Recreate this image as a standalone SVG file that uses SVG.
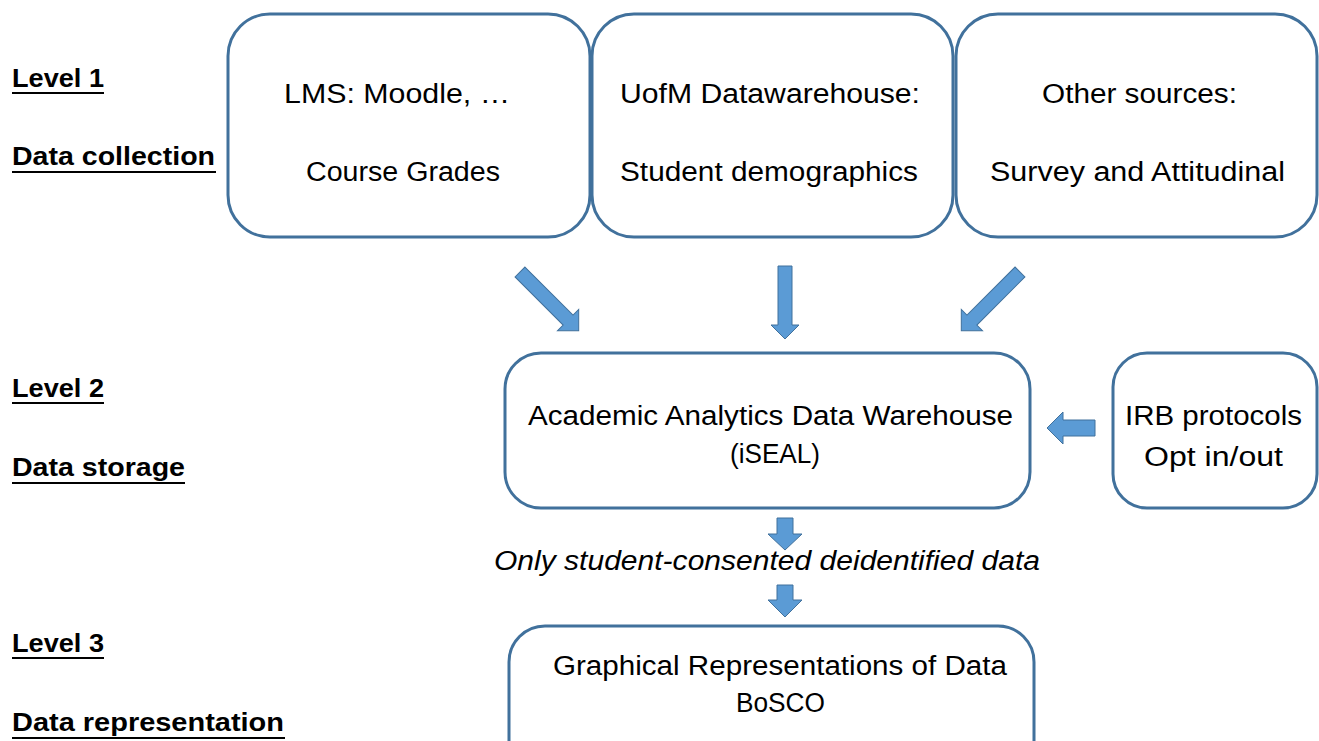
<svg xmlns="http://www.w3.org/2000/svg" width="1319" height="741" viewBox="0 0 1319 741">
<style>
.box{fill:#fff;stroke:#41719C;stroke-width:3}
.t{font-family:"Liberation Sans",Arial,sans-serif;font-size:27px;fill:#000;text-anchor:start}
.lbl{font-family:"Liberation Sans",Arial,sans-serif;font-size:26px;font-weight:bold;fill:#000}
.it{font-style:italic}
.ul{stroke:#000;stroke-width:2}
.arr{fill:#5B9BD5;stroke:#41719C;stroke-width:1}
</style>
<rect width="1319" height="741" fill="#fff"/>
<g id="labels">
<text class="lbl" x="12" y="87" textLength="92" lengthAdjust="spacingAndGlyphs">Level 1</text>
<line class="ul" x1="12" y1="93" x2="104" y2="93"/>
<text class="lbl" x="12" y="165" textLength="203" lengthAdjust="spacingAndGlyphs">Data collection</text>
<line class="ul" x1="12" y1="172" x2="216" y2="172"/>
<text class="lbl" x="12" y="397" textLength="92" lengthAdjust="spacingAndGlyphs">Level 2</text>
<line class="ul" x1="12" y1="403" x2="104" y2="403"/>
<text class="lbl" x="12" y="476" textLength="173" lengthAdjust="spacingAndGlyphs">Data storage</text>
<line class="ul" x1="12" y1="483" x2="185" y2="483"/>
<text class="lbl" x="12" y="652" textLength="92" lengthAdjust="spacingAndGlyphs">Level 3</text>
<line class="ul" x1="12" y1="658" x2="104" y2="658"/>
<text class="lbl" x="12" y="731" textLength="272" lengthAdjust="spacingAndGlyphs">Data representation</text>
<line class="ul" x1="12" y1="738" x2="285" y2="738"/>
</g>
<g id="lms">
<rect class="box" x="228" y="14" width="362" height="223" rx="42"/>
<text class="t" x="284" y="103" textLength="226" lengthAdjust="spacingAndGlyphs">LMS: Moodle,  …</text>
<text class="t" x="306" y="181" textLength="194" lengthAdjust="spacingAndGlyphs">Course Grades</text>
</g>
<g id="uofm">
<rect class="box" x="592" y="14" width="361" height="223" rx="42"/>
<text class="t" x="620" y="103" textLength="300" lengthAdjust="spacingAndGlyphs">UofM Datawarehouse:</text>
<text class="t" x="620" y="181" textLength="298" lengthAdjust="spacingAndGlyphs">Student demographics</text>
</g>
<g id="other">
<rect class="box" x="956" y="14" width="361" height="223" rx="42"/>
<text class="t" x="1042" y="103" textLength="195" lengthAdjust="spacingAndGlyphs">Other sources:</text>
<text class="t" x="990" y="181" textLength="295" lengthAdjust="spacingAndGlyphs">Survey and Attitudinal</text>
</g>
<g id="warehouse">
<rect class="box" x="505" y="353" width="525" height="155" rx="36"/>
<text class="t" x="528" y="425" textLength="485" lengthAdjust="spacingAndGlyphs">Academic Analytics Data Warehouse</text>
<text class="t" x="730" y="463" textLength="90" lengthAdjust="spacingAndGlyphs">(iSEAL)</text>
</g>
<g id="irb">
<rect class="box" x="1113" y="353" width="204" height="155" rx="34"/>
<text class="t" x="1125" y="425" textLength="177" lengthAdjust="spacingAndGlyphs">IRB protocols</text>
<text class="t" x="1144" y="466" textLength="139" lengthAdjust="spacingAndGlyphs">Opt in/out</text>
</g>
<g id="note">
<text class="t it" x="494" y="570" textLength="546" lengthAdjust="spacingAndGlyphs">Only student-consented deidentified data</text>
</g>
<g id="graphical">
<rect class="box" x="509" y="626" width="525" height="150" rx="36"/>
<text class="t" x="553" y="675" textLength="454" lengthAdjust="spacingAndGlyphs">Graphical Representations of Data</text>
<text class="t" x="736" y="712" textLength="89" lengthAdjust="spacingAndGlyphs">BoSCO</text>
</g>
<g id="connectors">
<path class="arr" transform="translate(520,272) rotate(45)" d="M0,-7 H68 V-15 L83,0 L68,15 V7 H0 Z"/>
<path class="arr" d="M778,266 H792 V325 H799 L785,339 L771,325 H778 Z"/>
<path class="arr" transform="translate(1020,272) rotate(135)" d="M0,-7 H68 V-15 L83,0 L68,15 V7 H0 Z"/>
<path class="arr" d="M1095,420 V436 H1063 V444 L1047,428 L1063,412 V420 Z"/>
<path class="arr" d="M777,518 H793 V534 H802 L785,550 L768,534 H777 Z"/>
<path class="arr" d="M777,585 H793 V600 H802 L785,617 L768,600 H777 Z"/>
</g>
</svg>
